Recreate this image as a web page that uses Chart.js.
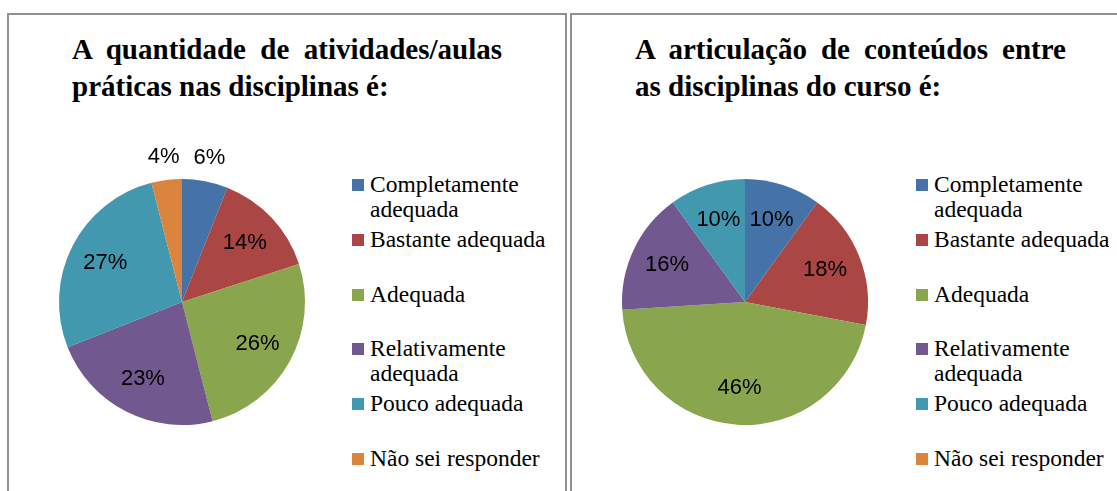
<!DOCTYPE html>
<html>
<head>
<meta charset="utf-8">
<script src="https://cdn.jsdelivr.net/npm/chart.js@4/dist/chart.umd.min.js"></script>
<style>
  html, body { margin: 0; padding: 0; background: #fff; overflow: hidden; }
  body { width: 1117px; height: 491px; position: relative; }
  .panel { position: absolute; top: 13px; height: 500px; border: 2px solid #919191; box-sizing: border-box; }
  .title { position: absolute; font-family: 'Liberation Serif', 'Times New Roman', serif; font-weight: bold;
           font-size: 29px; line-height: 37px; text-align: justify; color: #000; }
  .pie { position: absolute; width: 326px; height: 326px; }
  .legend { position: absolute; top: 172px; font-family: 'Liberation Serif', 'Times New Roman', serif;
            font-size: 23.5px; line-height: 25px; color: #000; }
  .legend .item { position: relative; height: 54.8px; padding-left: 18px; width: 200px; }
  .legend .box { position: absolute; left: 0; top: 7px; width: 12px; height: 12px; }
</style>
</head>
<body>
  <div class="panel" style="left:7px; width:560px;"></div>
  <div class="panel" style="left:570px; width:560px;"></div>

  <div class="title" id="titleLeft" style="left:72px; top:31px; width:430px;"></div>
  <div class="title" id="titleRight" style="left:635px; top:31px; width:431px;"></div>

  <div class="pie" style="left:19px; top:139px;"><canvas id="pieLeft"></canvas></div>
  <div class="pie" style="left:582px; top:139px;"><canvas id="pieRight"></canvas></div>

  <div class="legend" id="legendLeft" style="left:352px;"></div>
  <div class="legend" id="legendRight" style="left:916px;"></div>

<script>
const categories = [
  'Completamente adequada', 'Bastante adequada', 'Adequada',
  'Relativamente adequada', 'Pouco adequada', 'Não sei responder'
];
const quantidadeValues = [6, 14, 26, 23, 27, 4];
const articulacaoValues = [10, 18, 46, 16, 10, 0];
const titleLeft = 'A quantidade de atividades/aulas práticas nas disciplinas é:';
const titleRight = 'A articulação de conteúdos entre as disciplinas do curso é:';

const palette = ['#4572A7', '#AA4643', '#89A54E', '#71588F', '#4198AF', '#DB843D'];

document.getElementById('titleLeft').textContent = titleLeft;
document.getElementById('titleRight').textContent = titleRight;

function buildLegend(id) {
  const el = document.getElementById(id);
  categories.forEach((c, i) => {
    const item = document.createElement('div');
    item.className = 'item';
    const box = document.createElement('span');
    box.className = 'box';
    box.style.background = palette[i];
    item.appendChild(box);
    item.appendChild(document.createTextNode(c));
    el.appendChild(item);
  });
}
buildLegend('legendLeft');
buildLegend('legendRight');

// percentage labels: inside the slice, small ones pushed outside
const sliceLabels = {
  id: 'sliceLabels',
  afterDatasetsDraw(chart) {
    const ctx = chart.ctx;
    const values = chart.data.datasets[0].data;
    const arcs = chart.getDatasetMeta(0).data;
    ctx.save();
    ctx.font = '22px "Liberation Sans", Arial, sans-serif';
    ctx.fillStyle = '#000';
    ctx.textAlign = 'center';
    ctx.textBaseline = 'middle';
    arcs.forEach((arc, i) => {
      const v = values[i];
      if (!v) return;
      const mid = (arc.startAngle + arc.endAngle) / 2;
      const r = arc.outerRadius * (v < 8 ? 1.19 : 0.7);
      ctx.fillText(v + '%', arc.x + Math.cos(mid) * r, arc.y + Math.sin(mid) * r);
    });
    ctx.restore();
  }
};

function makePie(id, values) {
  new Chart(document.getElementById(id).getContext('2d'), {
    type: 'pie',
    data: {
      labels: categories,
      datasets: [{
        data: values,
        backgroundColor: palette,
        borderWidth: 0
      }]
    },
    options: {
      responsive: true,
      maintainAspectRatio: false,
      animation: false,
      layout: { padding: 40 },
      plugins: {
        legend: { display: false },
        title: { display: false },
        tooltip: { enabled: false }
      }
    },
    plugins: [sliceLabels]
  });
}

makePie('pieLeft', quantidadeValues);
makePie('pieRight', articulacaoValues);
</script>
</body>
</html>
